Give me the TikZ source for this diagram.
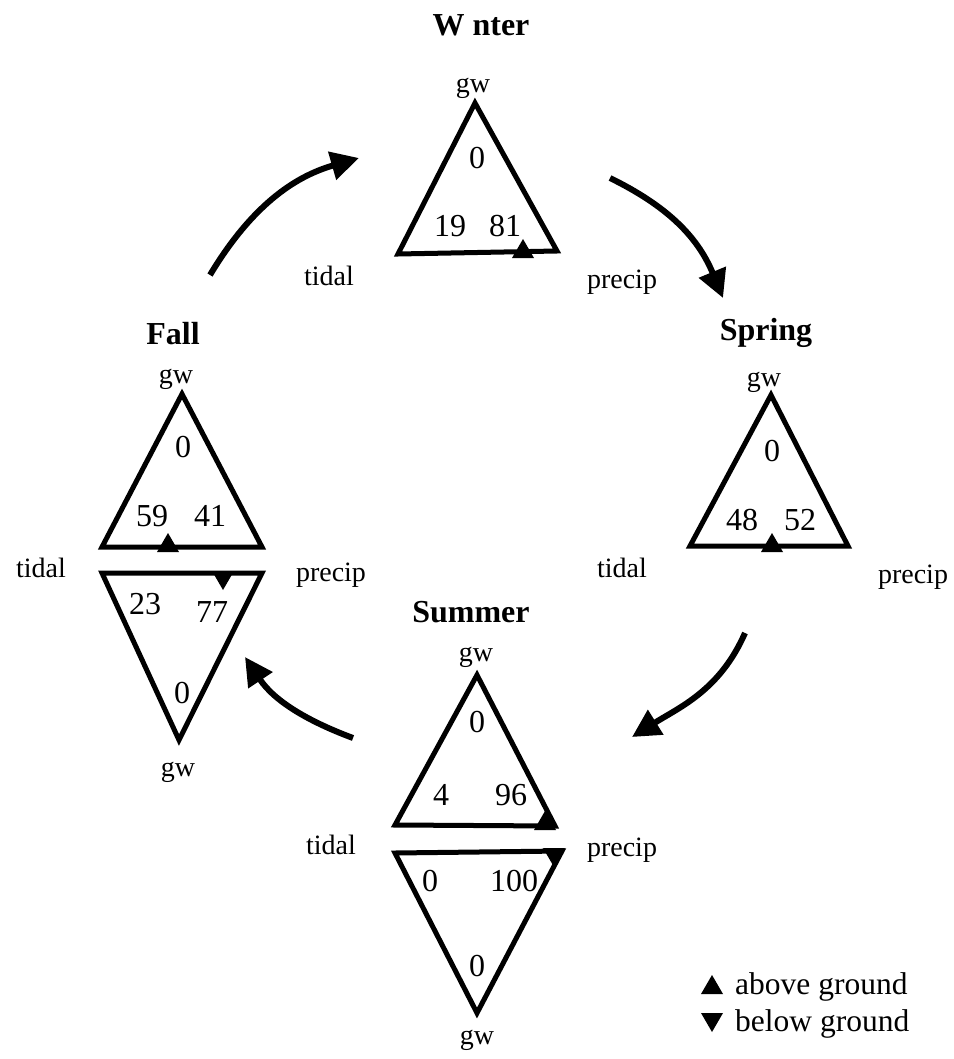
\documentclass[tikz,border=0pt]{standalone}
\usepackage{fontspec}
\setmainfont{Liberation Serif}
\usetikzlibrary{arrows.meta}
\tikzset{
  title/.style={font=\fontsize{32}{32}\selectfont\bfseries, inner sep=0},
  num/.style={font=\fontsize{32}{32}\selectfont, inner sep=0},
  lab/.style={font=\fontsize{28}{28}\selectfont, inner sep=0},
  leg/.style={font=\fontsize{31.5}{31.5}\selectfont, inner sep=0, anchor=base west},
  tri/.style={line width=5pt, line join=miter},
  flow/.style={line width=6pt, -{Triangle[length=28pt,width=28pt]}},
  upmark/.pic={\fill (-11,9) -- (11,9) -- (0,-10) -- cycle;},
  downmark/.pic={\fill (-11,-9) -- (11,-9) -- (0,10) -- cycle;}
}
\begin{document}
\begin{tikzpicture}[x=1pt,y=-1pt]
\useasboundingbox (0,0) rectangle (953,1059);
% ---------- Winter ----------
\node[title] (wt) at (481,25) {W\ nter};
\coordinate (wa) at (475,103);
\coordinate (wl) at (398,254);
\coordinate (wr) at (557,251);
\draw[tri] (wa) -- (wr) -- (wl) -- cycle;
\node[lab] (wgw) at (473,88) {gw};
\node[num] (w0) at (477,158) {0};
\node[num] (w19) at (450,226) {19};
\node[num] (w81) at (505,226) {81};
\node[lab] (wtid) at (329,276) {tidal};
\node[lab] (wpre) at (622,282) {precip};
\pic at (523,249) {upmark};
% ---------- Spring ----------
\node[title] (st) at (766,333) {Spring};
\coordinate (sa) at (771,395);
\coordinate (sl) at (690,546);
\coordinate (sr) at (848,546);
\draw[tri] (sa) -- (sr) -- (sl) -- cycle;
\node[lab] (sgw) at (764,382) {gw};
\node[num] (s0) at (772,451) {0};
\node[num] (s48) at (742,520) {48};
\node[num] (s52) at (800,520) {52};
\node[lab] (stid) at (622,568) {tidal};
\node[lab] (spre) at (913,577) {precip};
\pic at (772,543) {upmark};
% ---------- Fall ----------
\node[title] (ft) at (173,334) {Fall};
\coordinate (fa) at (182,394);
\coordinate (fl) at (102,547);
\coordinate (fr) at (262,547);
\draw[tri] (fa) -- (fr) -- (fl) -- cycle;
\coordinate (fbl) at (102,573);
\coordinate (fbr) at (262,573);
\coordinate (fba) at (179,740);
\draw[tri] (fbl) -- (fbr) -- (fba) -- cycle;
\node[lab] (fgw) at (176,379) {gw};
\node[num] (f0) at (183,447) {0};
\node[num] (f59) at (152,516) {59};
\node[num] (f41) at (210,516) {41};
\node[num] (f23) at (145,604) {23};
\node[num] (f77) at (212,612) {77};
\node[num] (fb0) at (182,693) {0};
\node[lab] (fbgw) at (178,772) {gw};
\node[lab] (ftid) at (41,568) {tidal};
\node[lab] (fpre) at (331,575) {precip};
\pic at (168,543) {upmark};
\pic at (223,580) {downmark};
% ---------- Summer ----------
\node[title] (mt) at (471,612) {Summer};
\coordinate (ma) at (477,675);
\coordinate (ml) at (395,825);
\coordinate (mr) at (555,826);
\draw[tri] (ma) -- (mr) -- (ml) -- cycle;
\coordinate (mbl) at (395,853);
\coordinate (mbr) at (562,851);
\coordinate (mba) at (477,1013);
\draw[tri] (mbl) -- (mbr) -- (mba) -- cycle;
\node[lab] (mgw) at (476,657) {gw};
\node[num] (m0) at (477,722) {0};
\node[num] (m4) at (441,795) {4};
\node[num] (m96) at (511,795) {96};
\node[num] (mb0a) at (430,881) {0};
\node[num] (m100) at (514,881) {100};
\node[num] (mb0) at (477,966) {0};
\node[lab] (mbgw) at (477,1040) {gw};
\node[lab] (mtid) at (331,845) {tidal};
\node[lab] (mpre) at (622,850) {precip};
\pic at (545,821) {upmark};
\pic at (554,857) {downmark};
% ---------- cycle arrows ----------
\coordinate (a1s) at (210,275);
\coordinate (a1e) at (359,158);
\draw[flow] (a1s) .. controls (255,200) and (300,175) .. (a1e);
\coordinate (a2s) at (610,178);
\coordinate (a2e) at (723,298);
\draw[flow] (a2s) .. controls (665,205) and (697,235) .. (a2e);
\coordinate (a3s) at (745,633);
\coordinate (a3e) at (632,737);
\draw[flow] (a3s) .. controls (720,690) and (680,707) .. (a3e);
\coordinate (a4s) at (353,738);
\coordinate (a4e) at (245,657);
\draw[flow] (a4s) .. controls (310,722) and (275,702) .. (a4e);
% ---------- legend ----------
\pic at (712,985) {upmark};
\node[leg] (lab1) at (735,994) {above ground};
\pic at (712,1022) {downmark};
\node[leg] (lab2) at (735,1031) {below ground};
\end{tikzpicture}
\end{document}
